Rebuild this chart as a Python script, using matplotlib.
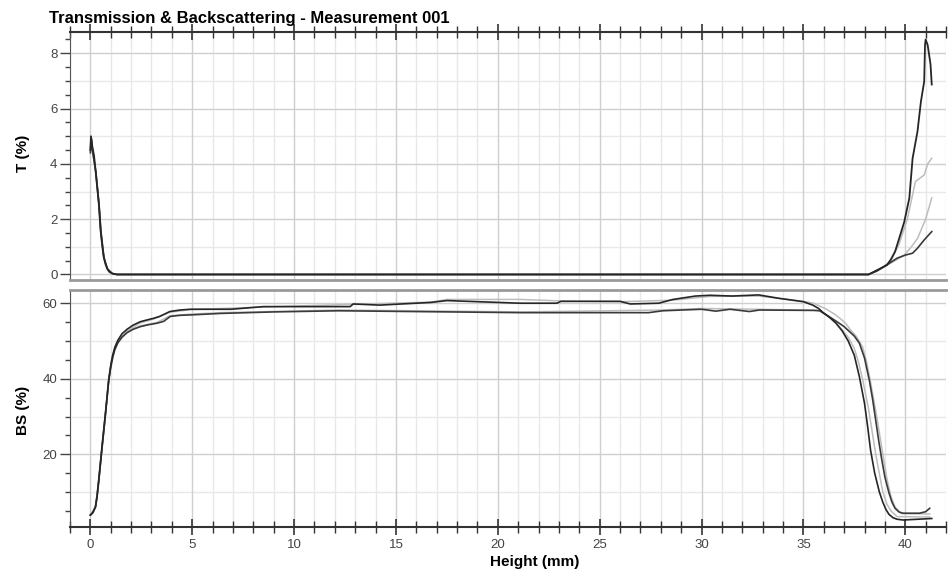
import matplotlib
matplotlib.use("Agg")
import matplotlib.pyplot as plt
from matplotlib.ticker import MultipleLocator
import numpy as np

plt.rcParams['font.family'] = ['Liberation Sans', 'DejaVu Sans']

title = "Transmission & Backscattering - Measurement 001"
xlabel = "Height (mm)"
t_ylabel = "T (%)"
bs_ylabel = "BS (%)"

# ---- Transmission curves (Height mm, T %) ----
t1_x = [0.0, 0.03, 0.1, 0.18, 0.25, 0.33, 0.41, 0.5, 0.58, 0.65, 0.74, 0.82, 0.92, 1.06, 1.3,
        38.2, 38.6, 39.1, 39.3, 39.5, 39.7, 39.95, 40.2, 40.36, 40.6, 40.77, 40.93, 40.97,
        41.0, 41.1, 41.24, 41.3]
t1_y = [4.5, 5.0, 4.6, 4.3, 3.8, 3.2, 2.6, 1.6, 1.05, 0.65, 0.38, 0.22, 0.1, 0.04, 0.0,
        0.0, 0.15, 0.34, 0.55, 0.83, 1.3, 1.9, 2.76, 4.2, 5.17, 6.26, 6.98, 8.3,
        8.5, 8.3, 7.6, 6.87]
t2_x = [0.0, 0.05, 0.12, 0.27, 0.43, 0.52, 0.67, 0.84, 1.08, 1.3, 38.2, 38.6, 39.1, 39.6, 40.0,
        40.36, 40.6, 40.93, 41.3]
t2_y = [4.4, 4.9, 4.4, 3.7, 2.5, 1.55, 0.6, 0.2, 0.03, 0.0, 0.0, 0.12, 0.35, 0.59, 0.7,
        0.77, 0.95, 1.25, 1.55]
t3_x = [0.0, 0.04, 0.1, 0.26, 0.42, 0.51, 0.66, 0.83, 1.07, 1.3, 38.2, 38.8, 39.3, 39.7, 40.1,
        40.5, 40.93, 41.1, 41.3]
t3_y = [4.6, 4.95, 4.5, 3.75, 2.55, 1.6, 0.62, 0.21, 0.03, 0.0, 0.0, 0.2, 0.5, 1.1, 2.0,
        3.36, 3.6, 4.0, 4.2]
t4_x = [0.0, 0.04, 0.1, 0.26, 0.42, 0.51, 0.66, 0.83, 1.07, 1.3, 38.2, 38.9, 39.5, 39.95, 40.3,
        40.6, 41.0, 41.3]
t4_y = [4.5, 4.9, 4.5, 3.7, 2.5, 1.55, 0.6, 0.2, 0.03, 0.0, 0.0, 0.25, 0.5, 0.7, 1.0,
        1.3, 2.0, 2.77]

# ---- Backscattering curves (Height mm, BS %) ----
bsA_x = [0, 0.12, 0.25, 0.33, 0.41, 0.57, 0.74, 0.9, 1.0, 1.1, 1.2, 1.35, 1.55, 1.8, 2.1, 2.45,
         2.8, 3.1, 3.4, 3.9, 4.4, 4.9, 6.9, 8.5, 12.75, 12.9, 14.2, 16.7, 17.5, 21.1, 22.9,
         23.1, 26.0, 26.5, 27.9, 28.6, 29.7, 30.4, 31.5, 32.8, 33.8, 35.0, 35.46, 35.75,
         35.95, 36.3, 36.6, 36.9, 37.2, 37.5, 37.75, 38.0, 38.15, 38.3, 38.5, 38.73, 38.9,
         39.05, 39.2, 39.4, 39.6, 39.9, 41.3]
bsA_y = [3.9, 4.6, 6.1, 9.0, 13.2, 22, 30.9, 39.7, 43.5, 46.3, 48.3, 50.2, 51.9, 53.1, 54.2,
         55.1, 55.6, 56.0, 56.5, 57.8, 58.2, 58.4, 58.4, 59.1, 59.1, 59.8, 59.5, 60.2, 60.7,
         60.0, 60.0, 60.5, 60.5, 59.8, 60.0, 61.0, 61.9, 62.1, 61.9, 62.2, 61.3, 60.4, 59.5,
         58.6, 57.6, 56.2, 54.7, 52.7, 50.0, 46.2, 40.5, 33.5, 27.5, 21.0, 15.0, 10.0, 7.3,
         5.4, 4.1, 3.2, 2.8, 2.6, 3.0]
bsB_x = [0, 0.12, 0.25, 0.33, 0.41, 0.57, 0.74, 0.9, 1.0, 1.1, 1.2, 1.35, 1.55, 1.8, 2.1, 2.45,
         2.85, 3.27, 3.6, 3.92, 4.4, 4.9, 6.4, 9.0, 12.2, 21.2, 27.4, 28.1, 30.0, 30.7, 31.4,
         32.35, 32.84, 35.5, 35.8, 36.1, 36.45, 36.76, 37.0, 37.2, 37.5, 37.75, 38.0, 38.24,
         38.4, 38.55, 38.7, 38.85, 39.0, 39.2, 39.35, 39.5, 39.7, 39.9, 40.7, 41.0, 41.2]
bsB_y = [3.9, 4.5, 6.0, 8.7, 12.8, 21.5, 30.5, 39.5, 43.0, 45.7, 47.7, 49.5, 51.0, 52.2, 53.1,
         53.8, 54.3, 54.7, 55.2, 56.5, 56.8, 56.9, 57.3, 57.7, 58.0, 57.5, 57.5, 58.0, 58.4,
         57.9, 58.4, 57.8, 58.2, 58.1, 58.0, 57.0, 55.8, 54.7, 53.8, 52.8, 51.3, 49.4, 45.5,
         39.5, 34.5, 29.0, 23.5, 18.5, 14.0, 9.8, 7.3, 5.7, 4.7, 4.4, 4.4, 4.8, 5.7]
bsC_x = [0, 0.25, 0.41, 0.57, 0.74, 0.9, 1.06, 1.3, 1.8, 2.45, 3.1, 3.9, 4.9, 8.5, 12.9, 16.7,
         17.5, 21.1, 23.1, 26.0, 28.6, 30.4, 32.8, 35.0, 35.5, 36.1, 36.5, 36.8, 37.1, 37.3,
         37.6, 37.9, 38.1, 38.3, 38.6, 38.9, 39.1, 39.3, 39.5, 39.8, 41.2]
bsC_y = [3.9, 6.1, 13.0, 21.8, 30.7, 39.6, 45.7, 49.6, 52.6, 54.8, 55.8, 57.6, 58.3, 59.0,
         59.7, 60.3, 61.0, 61.0, 60.6, 60.4, 60.8, 61.8, 61.9, 60.5, 60.0, 58.5, 57.2, 56.0,
         54.5, 53.0, 51.2, 48.5, 44.5, 39.0, 30.0, 20.0, 13.5, 8.8, 6.0, 4.3, 4.2]
bsD_x = [0, 0.25, 0.41, 0.57, 0.74, 0.9, 1.06, 1.3, 1.8, 2.45, 3.27, 3.92, 4.9, 6.4, 12.2,
         21.2, 28.1, 30.0, 32.8, 35.8, 36.2, 36.6, 36.9, 37.2, 37.5, 37.7, 37.9, 38.2, 38.55,
         38.9, 39.1, 39.3, 39.6, 41.2]
bsD_y = [3.9, 6.0, 12.9, 21.6, 30.6, 39.5, 45.6, 49.4, 52.4, 54.0, 54.9, 56.7, 57.1, 57.5,
         58.2, 57.7, 58.2, 58.6, 58.4, 58.1, 56.5, 54.8, 53.0, 51.0, 48.0, 44.5, 40.0, 32.0,
         20.0, 10.0, 6.8, 5.0, 3.5, 3.4]

DARK = '#262626'
LIGHT = '#bdbdbd'
TICKC = '#444444'
GRID_MAJ = '#cfcfcf'
GRID_MIN = '#e8e8e8'

fig = plt.figure(figsize=(9.48, 5.74), dpi=100)
W, H = 948, 574
ax1 = fig.add_axes([70 / W, 1 - 280 / H, 876 / W, 248 / H])
ax2 = fig.add_axes([70 / W, 1 - 527 / H, 876 / W, 237 / H])

for ax in (ax1, ax2):
    ax.set_xlim(-1, 42)
    ax.xaxis.set_major_locator(MultipleLocator(5))
    ax.xaxis.set_minor_locator(MultipleLocator(1))
    ax.set_axisbelow(True)
    ax.grid(which='major', axis='both', color=GRID_MAJ, lw=1.0)
    ax.grid(which='minor', axis='x', color=GRID_MIN, lw=1.0)
    ax.spines['right'].set_visible(False)
    ax.tick_params(axis='y', which='major', direction='out', length=7, width=1,
                   color=TICKC, labelcolor=TICKC, labelsize=9.5, pad=2)
    ax.tick_params(axis='y', which='minor', direction='out', length=3.5, width=1, color=TICKC)

# top panel
ax1.set_ylim(-0.2, 8.77)
ax1.yaxis.set_major_locator(MultipleLocator(2))
ax1.yaxis.set_minor_locator(MultipleLocator(0.5))
for v in np.arange(1, 9, 2):
    ax1.axhline(v, color=GRID_MIN, lw=1.0, zorder=0)
ax1.xaxis.tick_top()
ax1.tick_params(axis='x', which='major', direction='inout', length=12, width=1.2,
                color='#333333', labeltop=False, labelbottom=False, top=True, bottom=False)
ax1.tick_params(axis='x', which='minor', direction='inout', length=9, width=1,
                color='#333333', top=True, bottom=False)
ax1.spines['top'].set_color('#333333')
ax1.spines['top'].set_linewidth(1.5)
ax1.spines['left'].set_color('#555555')
ax1.spines['bottom'].set_color('#9a9a9a')
ax1.spines['bottom'].set_linewidth(2)

ax1.plot(t4_x, t4_y, color=LIGHT, lw=1.1, zorder=3)
ax1.plot(t3_x, t3_y, color=LIGHT, lw=1.1, zorder=3)
ax1.plot(t2_x, t2_y, color='#3a3a3a', lw=1.2, zorder=4)
ax1.plot(t1_x, t1_y, color=DARK, lw=1.3, zorder=5)

# bottom panel
ax2.set_ylim(0.75, 63.5)
ax2.yaxis.set_major_locator(MultipleLocator(20))
ax2.yaxis.set_minor_locator(MultipleLocator(5))
for v in (10, 30, 50):
    ax2.axhline(v, color=GRID_MIN, lw=1.0, zorder=0)
ax2.tick_params(axis='x', which='major', direction='inout', length=12, width=1.2,
                color='#333333', labelcolor=TICKC, labelsize=9.5, pad=3)
ax2.tick_params(axis='x', which='minor', direction='inout', length=9, width=1, color='#333333')
ax2.spines['bottom'].set_color('#333333')
ax2.spines['bottom'].set_linewidth(1.5)
ax2.spines['left'].set_color('#555555')
ax2.spines['top'].set_color('#9a9a9a')
ax2.spines['top'].set_linewidth(2)

ax2.plot(bsD_x, bsD_y, color=LIGHT, lw=1.1, zorder=3)
ax2.plot(bsC_x, bsC_y, color=LIGHT, lw=1.1, zorder=3)
ax2.plot(bsB_x, bsB_y, color='#3a3a3a', lw=1.2, zorder=4)
ax2.plot(bsA_x, bsA_y, color=DARK, lw=1.2, zorder=5)

fig.text(49 / W, 1 - 23 / H, title, fontsize=12, fontweight='bold', ha='left', va='baseline')
fig.text(23 / W, 1 - 153 / H, t_ylabel, fontsize=11, fontweight='bold', rotation=90,
         ha='center', va='center')
fig.text(23 / W, 1 - 410 / H, bs_ylabel, fontsize=11, fontweight='bold', rotation=90,
         ha='center', va='center')
fig.text(535 / W, 1 - 562 / H, xlabel, fontsize=11, fontweight='bold', ha='center', va='center')

fig.savefig("out.png", dpi=100)
